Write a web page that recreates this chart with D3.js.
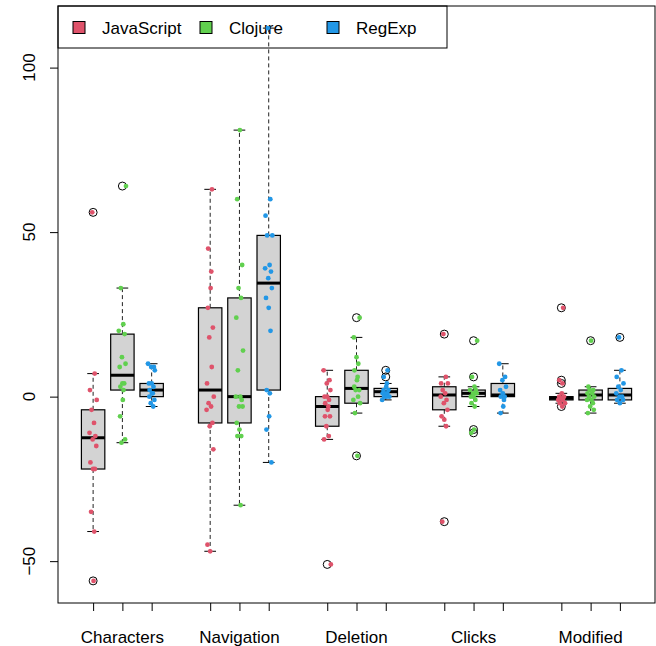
<!DOCTYPE html>
<html>
<head>
<meta charset="utf-8">
<script src="https://cdn.jsdelivr.net/npm/d3@7"></script>
<style>
  html, body { margin: 0; padding: 0; background: #fff; }
  svg { display: block; }
  text { font-family: "Liberation Sans", Arial, Helvetica, sans-serif; }
</style>
</head>
<body>
<svg id="chart" width="656" height="646"></svg>
<script>
// ---------------- data ----------------
const categories = ["Characters", "Navigation", "Deletion", "Clicks", "Modified"];
const languages  = ["JavaScript", "Clojure", "RegExp"];
const colors     = ["#DF536B", "#61D04F", "#2297E6"];
const yTicks     = [-50, 0, 50, 100];

// box statistics per language, one value per category
const jsLo  = [-41, -47, -13, -9, -2];
const jsQ1  = [-22, -8, -9, -4, -1];
const jsMed = [-12.5, 2, -3, 0.5, -0.5];
const jsQ3  = [-4, 27, 0, 3, 0];
const jsHi  = [7, 63, 8, 6, 1];

const cljLo  = [-14, -33, -5, -3, -5];
const cljQ1  = [2, -8, -2, 0, -1];
const cljMed = [6.5, 0, 2.5, 1, 0.5];
const cljQ3  = [19, 30, 8, 2, 2];
const cljHi  = [33, 81, 18, 3, 3];

const reLo  = [-3, -20, -1, -5, -2];
const reQ1  = [0, 2, 0, 0, -1];
const reMed = [2, 34.5, 1.5, 0.5, 0.5];
const reQ3  = [4, 49, 2.5, 4, 2.5];
const reHi  = [10, 112, 4, 10, 8];

// individual observations
const jsCharacters = [56, 7, 2, -1, -4, -8, -11, -12, -13, -15, -20, -22, -22, -35, -41, -56];
const jsNavigation = [63, 45, 38, 33, 27, 21, 18, 9, 4, 0, -2, -3, -4, -8, -9, -16, -45, -47];
const jsDeletion   = [8, 5, 4, 2, 0, 0, -1, -2, -3, -4, -6, -6, -9, -12, -13, -51];
const jsClicks     = [19, 6, 4, 4, 2, 1, 0, -1, -2, -4, -6, -7, -9, -38];
const jsModified   = [27, 5, 4, 1, 0, 0, -0.5, -1, -1, -2, -2, -3];

const cljCharacters = [64, 33, 22, 20, 19, 12, 10, 9, 4, 4, 3, 2, -1, -6, -13, -14];
const cljNavigation = [81, 60, 40, 33, 30, 24, 14, 8, 0, 0, -1, -3, -3, -8, -10, -12, -12, -33];
const cljDeletion   = [24, 18, 12, 10, 8, 6, 5, 3, 2, 2, 0, -1, -2, -5, -18];
const cljClicks     = [17, 6, 3, 2, 2, 1, 1, 0, 0, -1, -2, -3, -10, -11];
const cljModified   = [17, 3, 2, 2, 1, 1, 0, 0, -1, -1, -2, -3, -4, -5];

const reCharacters = [10, 9, 9, 8, 4, 4, 3, 2, 1, 1, 0, -1, -2, -3];
const reNavigation = [112, 60, 55, 49, 49, 40, 39, 38, 36, 33, 30, 27, 20, 2, 1, -6, -10, -20];
const reDeletion   = [8, 6, 4, 3, 2, 2, 1, 1, 1, 0, 0, 0, -1];
const reClicks     = [10, 6, 5, 3, 2, 1, 0, 0, -1, -3, -5];
const reModified   = [18, 8, 6, 4, 3, 2, 1, 0, 0, -1, -1, -2];

// ---------------- assemble ----------------
const statsByLang = [
  {lo: jsLo,  q1: jsQ1,  med: jsMed,  q3: jsQ3,  hi: jsHi},
  {lo: cljLo, q1: cljQ1, med: cljMed, q3: cljQ3, hi: cljHi},
  {lo: reLo,  q1: reQ1,  med: reMed,  q3: reQ3,  hi: reHi}
];
const pointsByLang = [
  [jsCharacters, jsNavigation, jsDeletion, jsClicks, jsModified],
  [cljCharacters, cljNavigation, cljDeletion, cljClicks, cljModified],
  [reCharacters, reNavigation, reDeletion, reClicks, reModified]
];

const boxes = [];
categories.forEach((cat, g) => {
  languages.forEach((lang, l) => {
    const s = statsByLang[l];
    boxes.push({
      cat, lang, l,
      pos: 1 + g * 4 + l,
      lo: s.lo[g], q1: s.q1[g], med: s.med[g], q3: s.q3[g], hi: s.hi[g],
      pts: pointsByLang[l][g]
    });
  });
});

// ---------------- layout ----------------
const plotL = 58, plotR = 655, plotT = 6, plotB = 603;

const allVals = boxes.flatMap(b => b.pts);
const [vmin, vmax] = d3.extent(allVals);
const pad = (vmax - vmin) * 0.04;

const x = d3.scaleLinear().domain([-0.2, 20.2]).range([plotL, plotR]);
const y = d3.scaleLinear().domain([vmin - pad, vmax + pad]).range([plotB, plotT]);

const svg = d3.select("#chart");
const unit = x(1) - x(0);
const bw = 0.8 * unit;   // box width
const sw = 0.4 * unit;   // staple width

// ---------------- legend (drawn first, transparent) ----------------
const lg = svg.append("g");
lg.append("rect").attr("x", plotL).attr("y", plotT).attr("width", 447 - plotL).attr("height", 48 - plotT)
  .attr("fill", "none").attr("stroke", "#000").attr("stroke-width", 1);
const legX = [73, 200, 327];
languages.forEach((lang, i) => {
  lg.append("rect").attr("x", legX[i]).attr("y", 21.5).attr("width", 12).attr("height", 12)
    .attr("fill", colors[i]).attr("stroke", "#000").attr("stroke-width", 1);
  lg.append("text").attr("x", legX[i] + 29).attr("y", 33.5)
    .attr("font-size", 17).attr("fill", "#000").text(lang);
});

// ---------------- boxes ----------------
const gBox = svg.append("g");
boxes.forEach(b => {
  const cx = x(b.pos);
  const g = gBox.append("g");
  g.append("line").attr("x1", cx).attr("x2", cx).attr("y1", y(b.q3)).attr("y2", y(b.hi))
    .attr("stroke", "#222").attr("stroke-width", 1).attr("stroke-dasharray", "4,3");
  g.append("line").attr("x1", cx).attr("x2", cx).attr("y1", y(b.q1)).attr("y2", y(b.lo))
    .attr("stroke", "#222").attr("stroke-width", 1).attr("stroke-dasharray", "4,3");
  [b.hi, b.lo].forEach(v => {
    g.append("line").attr("x1", cx - sw / 2).attr("x2", cx + sw / 2)
      .attr("y1", y(v)).attr("y2", y(v)).attr("stroke", "#000").attr("stroke-width", 1);
  });
  g.append("rect").attr("x", cx - bw / 2).attr("width", bw)
    .attr("y", y(b.q3)).attr("height", Math.max(0, y(b.q1) - y(b.q3)))
    .attr("fill", "#D3D3D3").attr("stroke", "#000").attr("stroke-width", 1.2);
  g.append("line").attr("x1", cx - bw / 2).attr("x2", cx + bw / 2)
    .attr("y1", y(b.med)).attr("y2", y(b.med)).attr("stroke", "#000").attr("stroke-width", 3);
  b.pts.filter(v => v > b.hi || v < b.lo).forEach(v => {
    g.append("circle").attr("cx", cx).attr("cy", y(v)).attr("r", 4)
      .attr("fill", "none").attr("stroke", "#000").attr("stroke-width", 1);
  });
});

// ---------------- jittered points ----------------
const jitterPattern = [0.1, -0.5, 0.6, -0.2, 0.35, -0.7, 0.8, -0.35, 0.2, -0.8, 0.5, -0.1, 0.7, -0.6, 0.0, 0.4, -0.45, 0.25];
const gPts = svg.append("g");
boxes.forEach(b => {
  const cx = x(b.pos);
  b.pts.forEach((v, i) => {
    gPts.append("circle")
      .attr("cx", cx + jitterPattern[(i + b.pos * 3) % jitterPattern.length] * 4.5)
      .attr("cy", y(v)).attr("r", 2.4)
      .attr("fill", colors[b.l]);
  });
});

// ---------------- axes ----------------
const yAxis = d3.axisLeft(y).tickValues(yTicks).tickSize(8).tickFormat("");
const gy = svg.append("g").attr("transform", `translate(${plotL},0)`).call(yAxis);
gy.select(".domain").remove();
gy.selectAll(".tick line").attr("stroke", "#000");

svg.append("g").selectAll("text").data(yTicks).join("text")
  .attr("transform", d => `translate(35,${y(d)}) rotate(-90)`)
  .attr("text-anchor", "middle")
  .attr("font-size", 17)
  .attr("fill", "#000")
  .text(d => d < 0 ? "\u2212" + Math.abs(d) : d);

const xAxis = d3.axisBottom(x).tickValues(boxes.map(b => b.pos)).tickSize(8).tickFormat("");
const gx = svg.append("g").attr("transform", `translate(0,${plotB})`).call(xAxis);
gx.select(".domain").remove();
gx.selectAll(".tick line").attr("stroke", "#000");

svg.append("g").selectAll("text").data(categories).join("text")
  .attr("x", (d, i) => x(2 + i * 4))
  .attr("y", 643)
  .attr("text-anchor", "middle")
  .attr("font-size", 17)
  .attr("fill", "#000")
  .text(d => d);

svg.append("rect").attr("x", plotL).attr("y", plotT)
  .attr("width", plotR - plotL).attr("height", plotB - plotT)
  .attr("fill", "none").attr("stroke", "#000").attr("stroke-width", 1);
</script>
</body>
</html>
